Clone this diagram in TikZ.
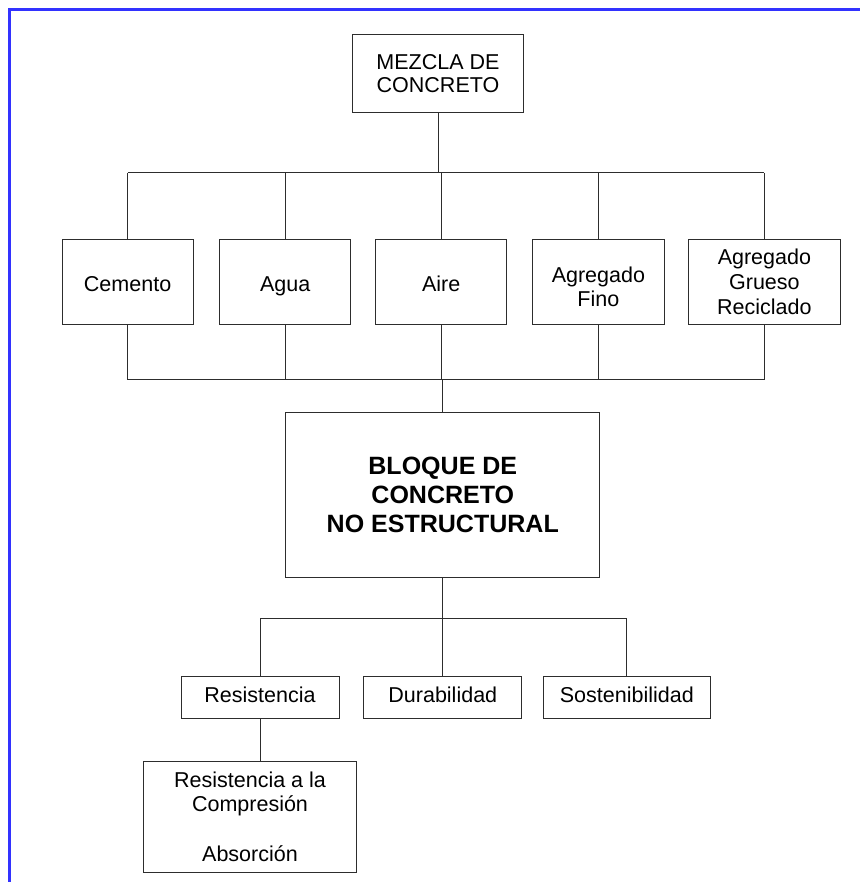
\documentclass[tikz,border=0pt]{standalone}
\usepackage{fontspec}
\setmainfont{Liberation Sans}
\definecolor{frameblue}{RGB}{50,50,255}
\definecolor{linegray}{RGB}{45,45,45}

\begin{document}
\begin{tikzpicture}[
  font=\fontsize{15.3}{16.6}\selectfont,
  box/.style={draw=linegray, line width=0.7pt, align=center, inner sep=0pt},
  mat/.style={box, minimum width=3.28cm, minimum height=2.12cm},
  prop/.style={box, minimum width=3.95cm, minimum height=1.05cm},
  oneline/.style={text height=11pt, text depth=3.5pt},
  lowline/.style={text height=14pt, text depth=0pt},
  link/.style={draw=linegray, line width=0.7pt},
  frame/.style={draw=frameblue, line width=2pt}
]
\useasboundingbox (0,0) rectangle (21.5,22.05);

%% page frame
\draw[frame] (0.24,0) -- (0.24,21.81) -- (21.5,21.81);

%% mixture and its components
\node[box, minimum width=4.27cm, minimum height=1.97cm] (mezcla) at (10.95,20.21) {MEZCLA DE\\CONCRETO};

\node[mat, lowline] (cemento) at (3.19,15.0)  {Cemento};
\node[mat, lowline] (agua)    at (7.13,15.0)  {Agua};
\node[mat, lowline] (aire)    at (11.03,15.0) {Aire};
\node[mat] (fino)    at (14.96,15.0) {\rule{0pt}{18pt}Agregado\\[1pt]Fino};
\node[mat, minimum width=3.78cm] (grueso) at (19.11,15.0) {Agregado\\[1pt]Grueso\\[1pt]Reciclado};

\coordinate (busA) at (0,17.73);
\coordinate (busB) at (0,12.56);
\coordinate (busC) at (0,6.6);

\draw[link] (mezcla.south) -- (mezcla.south |- busA);
\draw[link] (cemento.north |- busA) -- (grueso.north |- busA);
\draw[link] (cemento.north) -- (cemento.north |- busA);
\draw[link] (agua.north) -- (agua.north |- busA);
\draw[link] (aire.north) -- (aire.north |- busA);
\draw[link] (fino.north) -- (fino.north |- busA);
\draw[link] (grueso.north) -- (grueso.north |- busA);

%% block
\node[box, font=\fontsize{17.8}{20.6}\selectfont\bfseries,
      minimum width=7.85cm, minimum height=4.12cm] (bloque) at (11.07,9.67)
      {BLOQUE DE\\CONCRETO\\NO ESTRUCTURAL};

\draw[link] (cemento.south |- busB) -- (grueso.south |- busB);
\draw[link] (cemento.south) -- (cemento.south |- busB);
\draw[link] (agua.south) -- (agua.south |- busB);
\draw[link] (aire.south) -- (aire.south |- busB);
\draw[link] (fino.south) -- (fino.south |- busB);
\draw[link] (grueso.south) -- (grueso.south |- busB);
\draw[link] (bloque.north) -- (bloque.north |- busB);

%% properties
\node[prop, oneline] (resist) at (6.5,4.62)  {Resistencia};
\node[prop, oneline] (durab)  at (11.07,4.62) {Durabilidad};
\node[prop, oneline, minimum width=4.16cm] (sosten) at (15.67,4.62) {Sostenibilidad};
\node[box, minimum width=5.34cm, minimum height=2.79cm] (compres) at (6.25,1.63)
      {Resistencia a la\\Compresión\\[19pt]Absorción};

\draw[link] (bloque.south) -- (durab.north);
\draw[link] (resist.north |- busC) -- (sosten.north |- busC);
\draw[link] (resist.north) -- (resist.north |- busC);
\draw[link] (sosten.north) -- (sosten.north |- busC);
\draw[link] (resist.south) -- (resist.south |- compres.north);

\end{tikzpicture}
\end{document}
